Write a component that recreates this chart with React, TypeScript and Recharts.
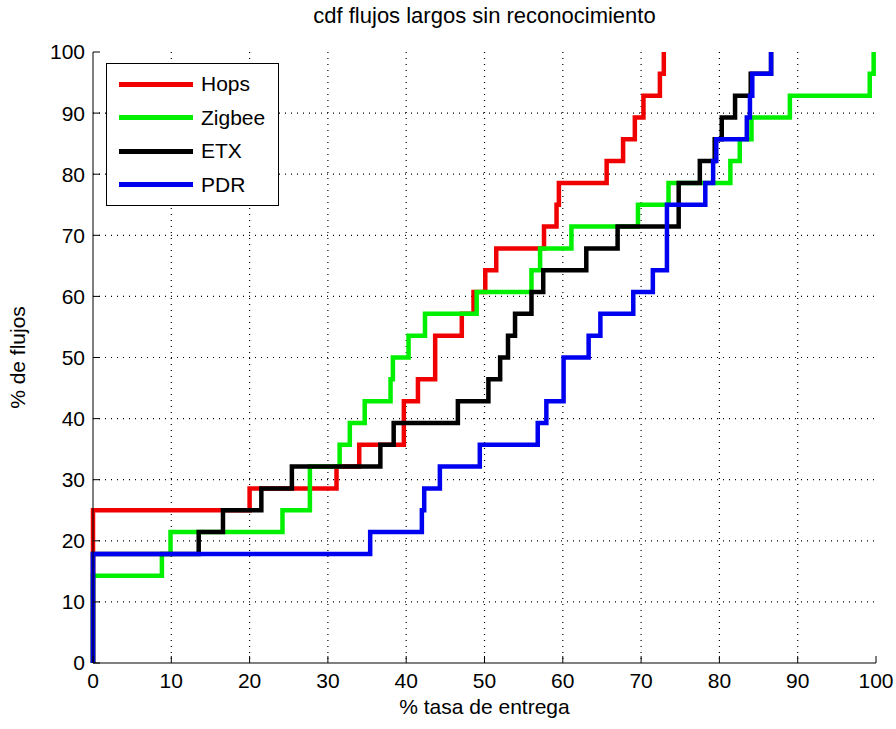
import { LineChart, Line, XAxis, YAxis, CartesianGrid } from 'recharts';

const FONT = '"Liberation Sans", Arial, sans-serif';
const TOTAL_FLOWS = 28;

// measured delivery rate (%) of each long flow, sorted, per routing metric
const hopsRates = [0, 0, 0, 0, 0, 0, 0, 20.0, 31.1, 34.0, 39.7, 39.7, 41.5, 43.7, 43.7, 47.1, 48.6, 50.1, 51.5, 57.6, 59.2, 59.5, 65.6, 67.7, 69.2, 70.3, 72.4, 72.9];
const zigbeeRates = [0, 0, 0, 0, 8.8, 9.9, 24.2, 27.7, 27.7, 31.5, 32.8, 34.7, 38.0, 38.3, 40.3, 42.4, 49.0, 56.0, 57.1, 61.1, 69.6, 73.5, 81.4, 82.6, 84.1, 89.0, 99.2, 99.7];
const etxRates = [0, 0, 0, 0, 0, 13.5, 16.6, 21.5, 25.4, 36.7, 38.4, 46.6, 50.5, 52.0, 53.0, 53.9, 56.0, 57.5, 63.0, 67.0, 74.8, 74.8, 77.5, 79.4, 80.3, 82.0, 84.0, 86.6];
const pdrRates = [0, 0, 0, 0, 0, 35.4, 42.0, 42.3, 44.3, 49.4, 56.8, 57.9, 60.1, 60.1, 63.3, 64.8, 69.0, 71.5, 73.3, 73.3, 73.3, 78.2, 79.2, 79.6, 83.5, 83.9, 84.2, 86.6];

const seriesNames = ['Hops', 'Zigbee', 'ETX', 'PDR'];
const seriesColors = ['#f00000', '#00f000', '#000000', '#0000f0'];
const seriesRates = [hopsRates, zigbeeRates, etxRates, pdrRates];

const xTicks = [0, 10, 20, 30, 40, 50, 60, 70, 80, 90, 100];
const yTicks = [0, 10, 20, 30, 40, 50, 60, 70, 80, 90, 100];

// empirical cdf: one step up per flow
function toCdf(rates: number[]) {
  const pts = [{ x: 0, y: 0 }];
  rates.forEach((r, i) => pts.push({ x: r, y: ((i + 1) / TOTAL_FLOWS) * 100 }));
  return pts;
}

const NoLabel = () => <g />;

function LegendBox() {
  return (
    <div
      style={{
        position: 'absolute',
        left: 106,
        top: 63,
        width: 171,
        height: 141,
        border: '1px solid #000',
        background: '#fff',
      }}
    >
      {seriesNames.map((name, i) => (
        <div key={name} style={{ position: 'absolute', left: 12, top: 8 + i * 33.6, height: 24, display: 'flex', alignItems: 'center' }}>
          <div style={{ width: 74, height: 5, background: seriesColors[i] }} />
          <span style={{ marginLeft: 8, fontFamily: FONT, fontSize: 21, color: '#000' }}>{name}</span>
        </div>
      ))}
    </div>
  );
}

export default function App() {
  const tickStyle = { fill: '#000', fontSize: 21, fontFamily: FONT };
  return (
    <div style={{ position: 'absolute', left: 0, top: 0, width: 896, height: 729, background: '#fff' }}>
      <div
        style={{
          position: 'absolute',
          left: 93,
          width: 783,
          top: 3,
          textAlign: 'center',
          fontFamily: FONT,
          fontSize: 22,
          color: '#000',
        }}
      >
        cdf flujos largos sin reconocimiento
      </div>
      <LineChart width={896} height={729} margin={{ top: 52, right: 20, left: 0, bottom: 0 }}>
        <CartesianGrid stroke="#000" strokeDasharray="1 5" strokeWidth={1.2} horizontalValues={yTicks.slice(1, -1)} verticalValues={xTicks.slice(1, -1)} />
        <XAxis
          type="number"
          dataKey="x"
          domain={[0, 100]}
          ticks={xTicks}
          height={66}
          tickSize={-7}
          tickMargin={17}
          stroke="#000"
          tick={tickStyle}
          label={{ value: '% tasa de entrega', position: 'insideBottom', offset: 15, style: { fill: '#000', fontSize: 21, fontFamily: FONT } }}
        />
        <XAxis xAxisId="top" orientation="top" type="number" domain={[0, 100]} ticks={xTicks} height={0} tickSize={-7} stroke="#000" tick={NoLabel} />
        <YAxis
          type="number"
          domain={[0, 100]}
          ticks={yTicks}
          width={93}
          tickSize={-7}
          tickMargin={15}
          stroke="#000"
          tick={tickStyle}
          label={{ value: '% de flujos', angle: -90, position: 'insideLeft', offset: 18, style: { textAnchor: 'middle', fill: '#000', fontSize: 21, fontFamily: FONT } }}
        />
        <YAxis yAxisId="right" orientation="right" type="number" domain={[0, 100]} ticks={yTicks} width={0} tickSize={-7} stroke="#000" tick={NoLabel} />
        {seriesNames.map((name, i) => (
          <Line
            key={name}
            name={name}
            data={toCdf(seriesRates[i])}
            dataKey="y"
            type="stepAfter"
            stroke={seriesColors[i]}
            strokeWidth={4.5}
            dot={false}
            activeDot={false}
            isAnimationActive={false}
          />
        ))}
      </LineChart>
      <LegendBox />
    </div>
  );
}
